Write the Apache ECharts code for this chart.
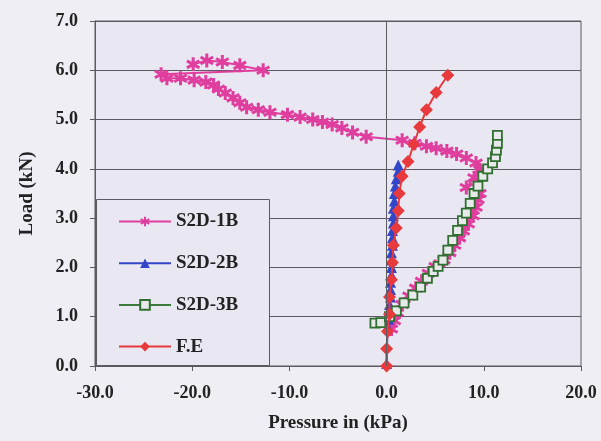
<!DOCTYPE html>
<html>
<head>
<meta charset="utf-8">
<script src="https://cdn.jsdelivr.net/npm/echarts@6/dist/echarts.min.js"></script>
<style>
  html, body { margin: 0; padding: 0; background: #efeef5; }
  #chart { width: 601px; height: 441px; }
</style>
</head>
<body>
<div id="chart"></div>
<script>
// Load vs. pressure readings for the three tests and the finite element prediction
const seriesNames = ['S2D-1B', 'S2D-2B', 'S2D-3B', 'F.E'];

const s1Pressure = [0.5, 0.8, 1.1, 1.6, 2.3, 3.0, 3.6, 4.3, 5.0, 5.9, 6.5, 7.0, 7.5, 7.9, 8.4, 8.9, 9.2, 9.4, 9.6, 8.2,
  9.0, 9.6, 9.2, 8.2, 7.2, 6.2, 5.1, 4.1, 2.9, 1.6, -2.1, -3.5, -4.6, -5.6, -6.6, -7.6, -8.9, -10.2, -12.0, -13.2,
  -14.4, -15.1, -15.8, -16.6, -17.3, -17.8, -18.6, -19.8, -21.2, -22.6, -23.2, -12.7, -15.1, -16.9, -18.5, -19.9];
const s1Load = [0.75, 0.92, 1.08, 1.25, 1.42, 1.58, 1.72, 1.88, 2.02, 2.15, 2.30, 2.45, 2.60, 2.74, 2.88, 3.05, 3.22, 3.38, 3.50, 3.62,
  3.82, 3.98, 4.12, 4.22, 4.30, 4.36, 4.42, 4.46, 4.52, 4.58, 4.65, 4.74, 4.83, 4.90, 4.95, 5.00, 5.05, 5.10, 5.15, 5.20,
  5.25, 5.34, 5.44, 5.54, 5.62, 5.70, 5.76, 5.80, 5.84, 5.84, 5.92, 6.00, 6.10, 6.17, 6.20, 6.12];

const s2Pressure = [0.0, 0.1, 0.2, 0.3, 0.3, 0.4, 0.4, 0.4, 0.5, 0.5, 0.5, 0.5, 0.6, 0.6, 0.6, 0.7, 0.7, 0.7, 0.8, 0.8, 0.9, 1.0, 1.2, 1.2];
const s2Load = [0.05, 0.80, 0.95, 1.10, 1.25, 1.40, 1.55, 1.70, 1.85, 2.00, 2.15, 2.30, 2.45, 2.60, 2.75, 2.90, 3.05, 3.20, 3.35, 3.50, 3.65, 3.80, 3.95, 4.08];

const s3Pressure = [-1.2, -0.6, 0.3, 1.0, 1.8, 2.7, 3.5, 4.2, 4.8, 5.3, 5.8, 6.3, 6.8, 7.3, 7.8, 8.2, 8.6, 9.0, 9.4, 9.9, 10.4, 10.9, 11.2, 11.3, 11.4, 11.4];
const s3Load = [0.87, 0.88, 1.00, 1.12, 1.28, 1.44, 1.60, 1.78, 1.92, 2.02, 2.15, 2.35, 2.55, 2.75, 2.95, 3.10, 3.30, 3.50, 3.65, 3.85, 4.00, 4.12, 4.25, 4.38, 4.52, 4.68];

const fePressure = [0.0, 0.0, 0.1, 0.3, 0.3, 0.5, 0.6, 0.7, 1.0, 1.2, 1.3, 1.6, 2.2, 2.8, 3.4, 4.1, 5.1, 6.3];
const feLoad = [0.0, 0.35, 0.70, 1.05, 1.40, 1.75, 2.10, 2.45, 2.80, 3.15, 3.50, 3.85, 4.15, 4.50, 4.85, 5.20, 5.55, 5.90];

const xTicks = [-30, -20, -10, 0, 10, 20];
const yTicks = [0, 1, 2, 3, 4, 5, 6, 7];

const zip = (xs, ys) => xs.map((x, i) => [x, ys[i]]);

// Six-armed asterisk marker built from three crossing bars
function starPath() {
  const half = 10, w = 2.1;
  let d = '';
  [90, 30, 150].forEach(deg => {
    const a = deg * Math.PI / 180;
    const ux = Math.cos(a), uy = Math.sin(a);
    const px = -uy, py = ux;
    const pts = [
      [half * ux + w * px, half * uy + w * py],
      [-half * ux + w * px, -half * uy + w * py],
      [-half * ux - w * px, -half * uy - w * py],
      [half * ux - w * px, half * uy - w * py]
    ].map(p => [(p[0] + 10).toFixed(2), (p[1] + 10).toFixed(2)]);
    d += 'M' + pts[0].join(' ') + 'L' + pts[1].join(' ') + 'L' + pts[2].join(' ') + 'L' + pts[3].join(' ') + 'Z';
  });
  return 'path://' + d;
}

const serifFont = '"Liberation Serif", "Times New Roman", serif';
const plotBg = '#e9e8f2';
const gridColor = '#5a5a60';

const chart = echarts.init(document.getElementById('chart'), null, { renderer: 'canvas' });

chart.setOption({
  backgroundColor: '#efeef5',
  animation: false,
  grid: {
    left: 95, right: 20, top: 21, bottom: 75,
    show: true, backgroundColor: plotBg, borderColor: gridColor, borderWidth: 1
  },
  xAxis: {
    type: 'value',
    min: xTicks[0], max: xTicks[xTicks.length - 1], interval: 10,
    name: 'Pressure in (kPa)',
    nameLocation: 'middle', nameGap: 48,
    nameTextStyle: { fontFamily: serifFont, fontWeight: 'bold', fontSize: 19, color: '#222' },
    axisLine: { show: true, onZero: false, lineStyle: { color: gridColor, width: 1 } },
    axisTick: { show: true, length: 5, lineStyle: { color: gridColor } },
    axisLabel: { margin: 18, fontFamily: serifFont, fontWeight: 'bold', fontSize: 18, color: '#222',
      formatter: v => v.toFixed(1) },
    splitLine: { show: false }
  },
  yAxis: {
    type: 'value',
    min: yTicks[0], max: yTicks[yTicks.length - 1], interval: 1,
    name: 'Load (kN)',
    nameLocation: 'middle', nameGap: 58,
    nameTextStyle: { fontFamily: serifFont, fontWeight: 'bold', fontSize: 19, color: '#222' },
    axisLine: { show: true, onZero: false, lineStyle: { color: gridColor, width: 1 } },
    axisTick: { show: true, length: 5, lineStyle: { color: gridColor } },
    axisLabel: { margin: 17, fontFamily: serifFont, fontWeight: 'bold', fontSize: 18, color: '#222',
      formatter: v => v.toFixed(1) },
    splitLine: { show: true, lineStyle: { color: gridColor, width: 1 } }
  },
  legend: {
    data: seriesNames,
    orient: 'vertical',
    left: 118, top: 212,
    itemWidth: 52, itemHeight: 12, itemGap: 22.7,
    padding: 0,
    z: 6,
    textStyle: { fontFamily: serifFont, fontWeight: 'bold', fontSize: 19, color: '#222', padding: [0, 0, 0, 0] }
  },
  graphic: [{
    type: 'rect', z: 5,
    shape: { x: 96.5, y: 199.5, width: 173, height: 166 },
    style: { fill: plotBg, stroke: gridColor, lineWidth: 1 }
  }],
  series: [
    {
      name: seriesNames[0], type: 'line', data: zip(s1Pressure, s1Load),
      symbol: starPath(), symbolSize: 14,
      lineStyle: { color: '#e03e9e', width: 2 },
      itemStyle: { color: '#e03e9e' },
      z: 3,
      markLine: {
        silent: true, symbol: 'none', label: { show: false },
        lineStyle: { color: gridColor, width: 1, type: 'solid' },
        data: [{ xAxis: 0 }]
      }
    },
    {
      name: seriesNames[1], type: 'line', data: zip(s2Pressure, s2Load),
      symbol: 'triangle', symbolSize: 11,
      lineStyle: { color: '#3346c8', width: 2 },
      itemStyle: { color: '#3346c8' },
      z: 3
    },
    {
      name: seriesNames[2], type: 'line', data: zip(s3Pressure, s3Load),
      symbol: 'rect', symbolSize: 9,
      lineStyle: { color: '#3a7a3a', width: 2 },
      itemStyle: { color: '#e8e9ea', borderColor: '#2f6f2f', borderWidth: 1.8 },
      z: 3
    },
    {
      name: seriesNames[3], type: 'line', data: zip(fePressure, feLoad),
      symbol: 'diamond', symbolSize: 13,
      lineStyle: { color: '#e8393d', width: 2 },
      itemStyle: { color: '#e8393d' },
      z: 4
    }
  ]
});
</script>
</body>
</html>
